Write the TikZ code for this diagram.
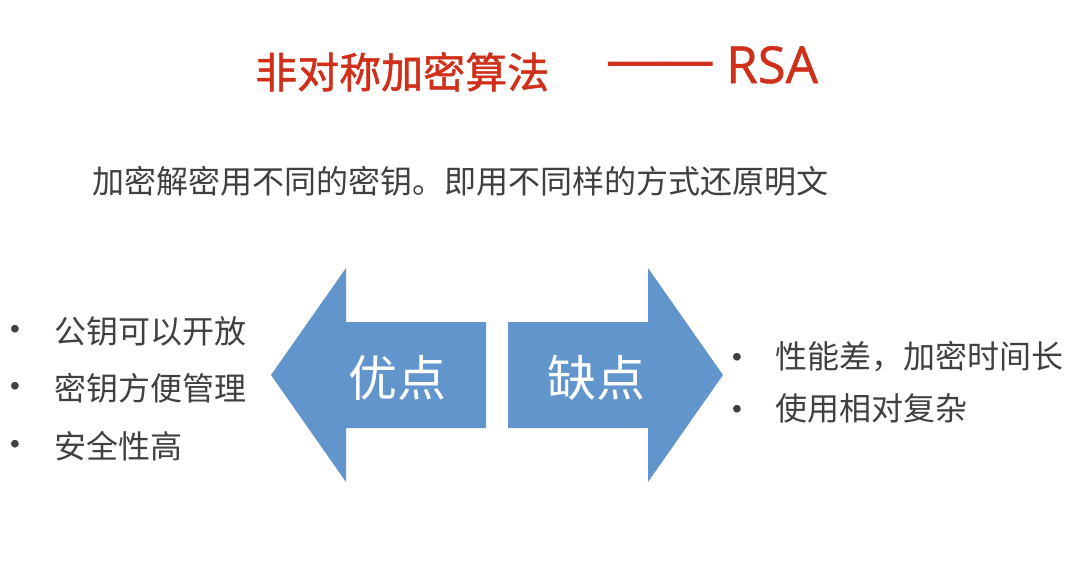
\documentclass[tikz,border=0pt]{standalone}
\usepackage{fontspec}
\setmainfont{Noto Sans CJK SC}
\newfontfamily\titlecjk[FakeBold=1.2]{Noto Sans CJK SC}
\newfontfamily\latinfont[FakeBold=1]{Open Sans}
\newfontfamily\rulefont[FakeBold=1.5]{Liberation Sans}
\newfontfamily\arialfont{Liberation Sans}
\definecolor{titlered}{RGB}{208,48,26}
\definecolor{bodygray}{RGB}{64,64,64}
\definecolor{arrowblue}{RGB}{99,149,205}
\tikzset{
  titletext/.style={font=\titlecjk\fontsize{42}{48}\selectfont, text=titlered, inner sep=0pt, anchor=base west},
  titlelatin/.style={font=\latinfont\fontsize{51}{56}\selectfont, text=titlered, inner sep=0pt, anchor=base west},
  titlerule/.style={font=\rulefont\fontsize{52}{56}\selectfont, text=titlered, inner sep=0pt, anchor=base west},
  bodytext/.style={font=\fontsize{32}{36}\selectfont, text=bodygray, inner sep=0pt, anchor=base west},
  bulletdot/.style={font=\arialfont\fontsize{28}{30}\selectfont, text=bodygray, inner sep=0pt, anchor=center},
  arrowshape/.style={fill=arrowblue, draw=none},
  arrowlabel/.style={font=\fontsize{49}{54}\selectfont, text=white, inner sep=0pt, anchor=base}
}
\begin{document}
\begin{tikzpicture}[x=1pt,y=-1pt]
  \useasboundingbox[fill=white] (0,0) rectangle (1080,570);

  % heading
  \node[titletext] (title) at (255,88) {非对称加密算法};
  \node[titlerule] (titledash) at (608,77) {——};
  \node[titlelatin] (titlersa) at (726,83) {RSA};
  \node[bodytext] (summary) at (92,193) {加密解密用不同的密钥。即用不同样的方式还原明文};

  % the two block arrows
  \path[arrowshape] (271,375) -- (346,268) -- (346,322) -- (486,322)
        -- (486,428) -- (346,428) -- (346,482) -- cycle;
  \path[arrowshape] (723,375) -- (648,268) -- (648,322) -- (508,322)
        -- (508,428) -- (648,428) -- (648,482) -- cycle;
  \node[arrowlabel] (pros) at (397,396) {优点};
  \node[arrowlabel] (cons) at (596,396) {缺点};

  % advantages
  \node[bulletdot] (pd1) at (15,332) {•};
  \node[bodytext] (p1) at (54,343) {公钥可以开放};
  \node[bulletdot] (pd2) at (15,389) {•};
  \node[bodytext] (p2) at (54,400) {密钥方便管理};
  \node[bulletdot] (pd3) at (15,447) {•};
  \node[bodytext] (p3) at (54,458) {安全性高};

  % disadvantages
  \node[bulletdot] (cd1) at (737,360) {•};
  \node[bodytext] (c1) at (775,368) {性能差，加密时间长};
  \node[bulletdot] (cd2) at (737,412) {•};
  \node[bodytext] (c2) at (775,420) {使用相对复杂};
\end{tikzpicture}
\end{document}
